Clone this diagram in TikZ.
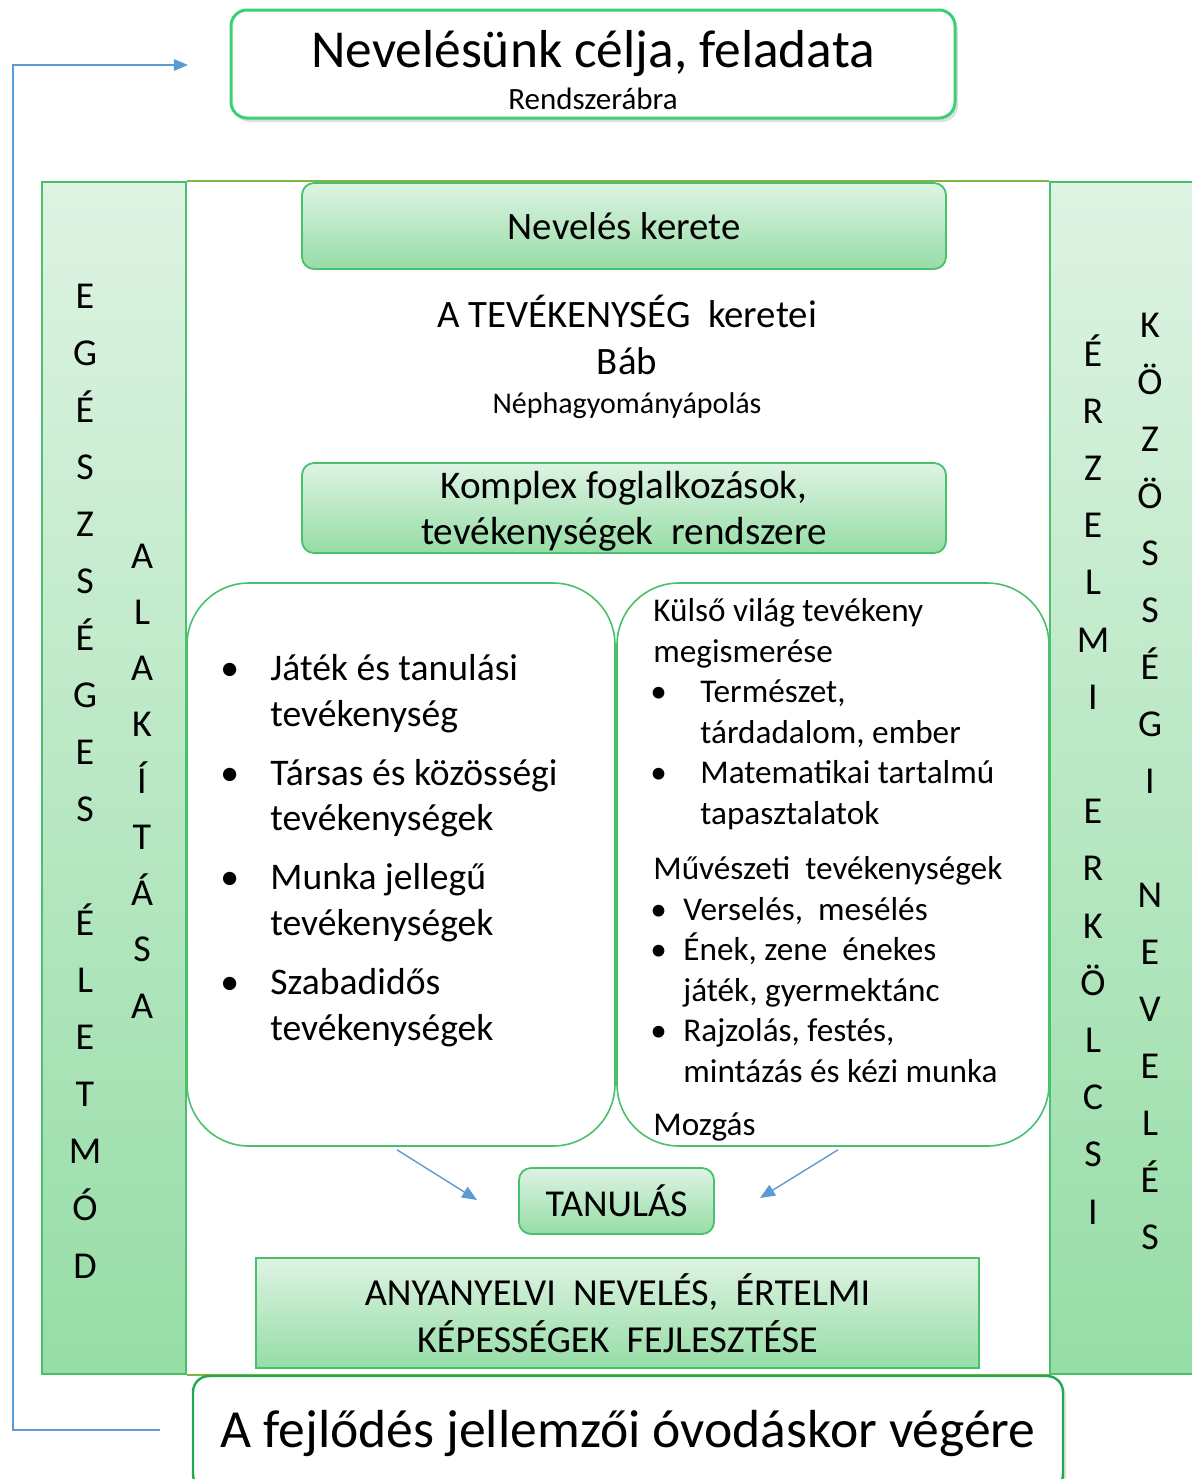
\documentclass[tikz,border=0pt]{standalone}
\usepackage{fontspec}
\setmainfont{Carlito}
\usetikzlibrary{positioning}
\usetikzlibrary{arrows,shadows}

\definecolor{gline}{RGB}{72,192,108}
\definecolor{gbright}{RGB}{60,208,118}
\definecolor{gdark}{RGB}{34,168,78}
\definecolor{gtop}{RGB}{222,243,227}
\definecolor{gbot}{RGB}{150,221,166}
\definecolor{olive}{RGB}{128,182,70}
\definecolor{bluel}{RGB}{91,155,213}

\begin{document}
\begin{tikzpicture}[x=0.5pt,y=-0.5pt, %one unit is one pixel of the sheet
boxg/.style ={draw=gline, line width=0.9pt, top color=gtop, bottom color=gbot, rounded corners=6pt, inner sep=0pt, align=center},
col/.style ={draw=gline, line width=0.8pt, top color=gtop, bottom color=gbot, inner sep=0pt},
bigbox/.style ={draw=gline, line width=0.8pt, fill=white, rounded corners=31pt, inner sep=0pt},
head/.style ={draw=gbright, line width=1.5pt, fill=white, rounded corners=8pt, inner sep=0pt, align=center,
  drop shadow={opacity=0.25, shadow xshift=1.5pt, shadow yshift=-2pt}},
vletter/.style ={font=\fontsize{19}{19}\selectfont, anchor=base, inner sep=0pt},
listtext/.style ={align=left, inner sep=0pt, anchor=north west},
blarrow/.style ={->, >=triangle 45, draw=bluel, line width=0.7pt}
]
\useasboundingbox (0,0) rectangle (1192,1479);
%side columns
\node[col, minimum width=72pt, minimum height=596pt] (lcol) at (114,778) {};
\node[col, minimum width=75pt, minimum height=596pt] (rcol) at (1125,778) {};
\draw[olive, line width=0.8pt] (lcol.north east) -- (rcol.north west);
\draw[olive, line width=0.8pt] (lcol.south east) -- (rcol.south west);
%letters of the columns
\foreach \l [count=\i from 0] in {E,G,É,S,Z,S,É,G,E,S,{},É,L,E,T,M,Ó,D}
  \node[vletter] (eg\i) at (85,{308+57.06*\i}) {\l};
\foreach \l [count=\i from 0] in {A,L,A,K,Í,T,Á,S,A}
  \node[vletter] (al\i) at (142,{568+56.25*\i}) {\l};
\foreach \l [count=\i from 0] in {É,R,Z,E,L,M,I,{},E,R,K,Ö,L,C,S,I}
  \node[vletter] (er\i) at (1093,{366+57.2*\i}) {\l};
\foreach \l [count=\i from 0] in {K,Ö,Z,Ö,S,S,É,G,I,{},N,E,V,E,L,É,S}
  \node[vletter] (koz\i) at (1150,{337+57.06*\i}) {\l};
%title
\node[head, minimum width=362pt, minimum height=54pt] (cel) at (593,64)
  {{\fontsize{26.7}{21}\selectfont\rule{0pt}{24.5pt}Nevelésünk célja, feladata}\\[4.5pt]{\fontsize{15.5}{21}\selectfont Rendszerábra}};
%frame of education
\node[boxg, minimum width=322pt, minimum height=43pt, font=\fontsize{19.4}{23}\selectfont] (keret) at (624,226) {Nevelés kerete};
\node[anchor=base, inner sep=0pt, font=\fontsize{19.4}{23}\selectfont] (tev) at (627,327) {A TEVÉKENYSÉG\ \ keretei};
\node[anchor=base, inner sep=0pt, font=\fontsize{19.4}{23}\selectfont] (bab) at (627,374) {Báb};
\node[anchor=base, inner sep=0pt, font=\fontsize{15}{18}\selectfont] (nep) at (627,413) {Néphagyományápolás};
\node[boxg, minimum width=322pt, minimum height=45pt, font=\fontsize{19.6}{23}\selectfont] (komplex) at (624,508)
  {\rule{0pt}{17pt}Komplex foglalkozások,\\tevékenységek\ \ rendszere};
%the two activity boxes
\node[bigbox, minimum width=214pt, minimum height=281.5pt] (lbox) at (401,864.5) {};
\node[bigbox, minimum width=216pt, minimum height=281.5pt] (rbox) at (833,864.5) {};
\node[listtext, font=\fontsize{18.8}{22.9}\selectfont] (jatek) at (220,654) {%
\makebox[25pt][l]{•}Játék és tanulási\\
\hspace*{25pt}tevékenység\\[6.5pt]
\makebox[25pt][l]{•}Társas és közösségi\\
\hspace*{25pt}tevékenységek\\[6.5pt]
\makebox[25pt][l]{•}Munka jellegű\\
\hspace*{25pt}tevékenységek\\[6.5pt]
\makebox[25pt][l]{•}Szabadidős\\
\hspace*{25pt}tevékenységek};
\node[listtext, font=\fontsize{16.6}{20.3}\selectfont] (kulso) at (653,598) {%
Külső világ tevékeny\\
megismerése\\
\makebox[23.5pt][l]{\hspace*{-1.5pt}•}Természet,\\
\hspace*{23.5pt}tárdadalom, ember\\
\makebox[23.5pt][l]{\hspace*{-1.5pt}•}Matematikai tartalmú\\
\hspace*{23.5pt}tapasztalatok\\[7.2pt]
Művészeti\ \ tevékenységek\\
\makebox[15pt][l]{\hspace*{-1.5pt}•}Verselés,\ \ mesélés\\
\makebox[15pt][l]{\hspace*{-1.5pt}•}Ének, zene\ \ énekes\\
\hspace*{15pt}játék, gyermektánc\\
\makebox[15pt][l]{\hspace*{-1.5pt}•}Rajzolás, festés,\\
\hspace*{15pt}mintázás és kézi munka\\[6pt]
Mozgás};
%learning
\node[boxg, minimum width=97.5pt, minimum height=33pt, font=\fontsize{19}{23}\selectfont] (tanulas) at (616.5,1201) {TANULÁS};
\coordinate (tanl) at (477,1200);
\coordinate (tanr) at (760,1198);
\draw[blarrow] (lbox.south) ++(-4,3) -- (tanl);
\draw[blarrow] (rbox.south) ++(5,3) -- (tanr);
\node[boxg, rounded corners=0pt, minimum width=361.5pt, minimum height=55pt, font=\fontsize{19.1}{23.5}\selectfont] (anya) at (617.5,1313)
  {ANYANYELVI\ \ NEVELÉS,\ \ ÉRTELMI\\KÉPESSÉGEK\ \ FEJLESZTÉSE};
%end of the kindergarten
\node[head, draw=gdark, line width=1.2pt, minimum width=435pt, minimum height=57pt, font=\fontsize{26.8}{30}\selectfont] (jell) at (628,1433)
  {A fejlődés jellemzői óvodáskor végére};
%feedback loop
\coordinate (loopin) at (160,1430);
\coordinate (loopout) at (188,65);
\draw[blarrow, line width=0.6pt] (loopin) -| (13,65) -- (loopout);
\end{tikzpicture}
\end{document}
